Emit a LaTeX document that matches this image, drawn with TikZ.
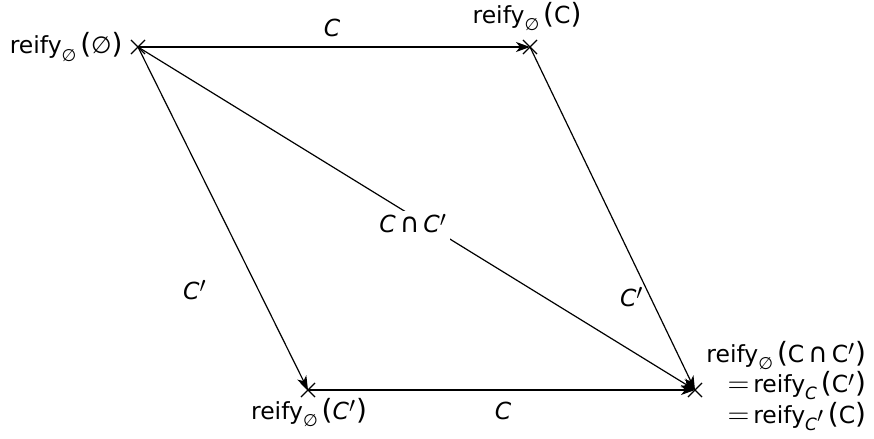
\documentclass[tikz,border=0pt]{standalone}
\usepackage{fontspec}
\setmainfont{DejaVu Sans}
\usetikzlibrary{arrows.meta,shapes.misc}
\newcommand\lsub[1]{\raisebox{-0.55ex}{\fontsize{8.5}{9}\selectfont#1}}
\newcommand\vC{\textit{C}}
\newcommand\pr{\raisebox{-0.45ex}{\fontsize{16}{16}\selectfont$'$}}
\newcommand\capsym{\,{\fontsize{13.5}{14}\selectfont ∩}\,}
\newcommand\eqs{{\fontsize{15}{14}\selectfont$=$}\,}
\newcommand\rf[2]{reify\lsub{#1}\,{\fontsize{14}{14}\selectfont(}#2{\fontsize{14}{14}\selectfont)}}
\begin{document}
\begin{tikzpicture}[x=0.5bp,y=-0.5bp,
  font=\fontsize{11.8}{14}\selectfont,
  pt/.style={draw,cross out,minimum size=6.5bp,inner sep=0pt,line width=0.55bp},
  arr/.style={line width=0.6bp,-{Stealth[length=7bp,width=5bp,inset=2bp]}},
  lbl/.style={inner sep=0pt}]
\useasboundingbox (0,0) rectangle (874,439);
\node[pt] (a) at (138,47) {};
\node[pt] (b) at (530,47) {};
\node[pt] (c) at (308,390) {};
\node[pt] (d) at (695,390) {};
\node[lbl,anchor=east] (la) at (123,47) {\rf{∅}{∅}};
\node[lbl,anchor=south] (lb) at (527,31) {\rf{∅}{C}};
\node[lbl,anchor=north] (lc) at (309,398) {\rf{∅}{\vC\pr}};
\node[lbl,anchor=west,align=right] (ld) at (706,388)
  {\rf{∅}{C\capsym C\pr}\\ \eqs\rf{\vC}{C\pr}\\ \eqs\rf{\vC\pr}{C}};
\draw[arr] (a.center) -- node[lbl,pos=0.495,yshift=9.5bp] {\vC} (b.center);
\draw[arr] (a.center) -- node[lbl,pos=0.717,xshift=-32.5bp] {\vC\pr} (c.center);
\draw[arr] (b.center) -- node[lbl,pos=0.738,xshift=-10bp] {\vC\pr} (d.center);
\draw[arr] (c.center) -- node[lbl,pos=0.504,yshift=-10.5bp] {\vC} (d.center);
\draw[arr] (a.center) -- node[pos=0.494,yshift=-5bp,fill=white,inner sep=1.5bp] {\vC\capsym\vC\pr} (d.center);
\end{tikzpicture}
\end{document}
